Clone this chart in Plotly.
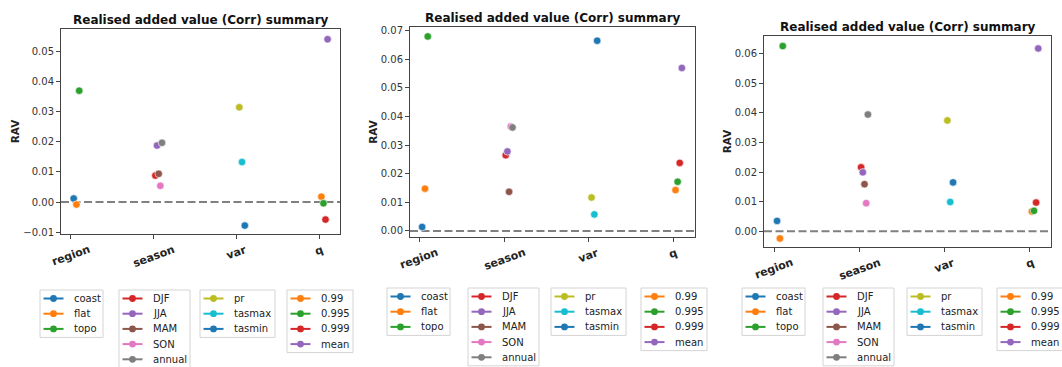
import plotly.graph_objects as go

# Factor groups on the x axis and the levels within each group
groups = ["region", "season", "var", "q"]
region_levels = ["coast", "flat", "topo"]
season_levels = ["DJF", "JJA", "MAM", "SON", "annual"]
var_levels = ["pr", "tasmax", "tasmin"]
q_levels = ["0.99", "0.995", "0.999", "mean"]

# Realised added value per level, one set of lists per panel
rav_a_region = [0.0012, -0.0008, 0.0370]
rav_a_season = [0.0088, 0.0188, 0.0094, 0.0054, 0.0197]
rav_a_var = [0.0315, 0.0133, -0.0078]
rav_a_q = [0.0018, -0.0004, -0.0058, 0.0541]

rav_b_region = [0.0014, 0.0148, 0.0680]
rav_b_season = [0.0265, 0.0278, 0.0137, 0.0365, 0.0362]
rav_b_var = [0.0117, 0.0058, 0.0665]
rav_b_q = [0.0143, 0.0172, 0.0238, 0.0570]

rav_c_region = [0.0035, -0.0024, 0.0625]
rav_c_season = [0.0216, 0.0199, 0.0159, 0.0095, 0.0394]
rav_c_var = [0.0374, 0.0099, 0.0165]
rav_c_q = [0.0067, 0.0069, 0.0097, 0.0617]

# tab10 colours per level
region_colors = ["#1f77b4", "#ff7f0e", "#2ca02c"]
season_colors = ["#d62728", "#9467bd", "#8c564b", "#e377c2", "#7f7f7f"]
var_colors = ["#bcbd22", "#17becf", "#1f77b4"]
q_colors = ["#ff7f0e", "#2ca02c", "#d62728", "#9467bd"]

level_sets = [region_levels, season_levels, var_levels, q_levels]
color_sets = [region_colors, season_colors, var_colors, q_colors]
panels = [
    [rav_a_region, rav_a_season, rav_a_var, rav_a_q],
    [rav_b_region, rav_b_season, rav_b_var, rav_b_q],
    [rav_c_region, rav_c_season, rav_c_var, rav_c_q],
]

W, H = 1062, 367
FONT = "DejaVu Sans"
TITLE = "Realised added value (Corr) summary"

# Panel placement in pixels: left, right, top, bottom
panel_boxes = [(61, 340, 29, 234), (410, 695, 27, 237), (764, 1051, 36, 247)]
y_ranges = [(-0.0106, 0.0575), (-0.0021, 0.0713), (-0.0053, 0.0659)]
x_ranges = [(-0.12, 3.25), (-0.11, 3.255), (-0.12, 3.25)]

# Legend boxes under each panel (pixels): left edges, top, box widths per group
legend_lefts = [(40, 119, 200, 287), (387, 468, 551, 641), (742, 823, 907, 997)]
legend_tops = [290, 288, 288]
legend_widths = [63, 71, 75, 66]
ROW_H = 15.2
PAD_Y = 8.5


def px_x(v):
    return v / W


def px_y(v):
    return 1 - v / H


fig = go.Figure()
annotations, shapes = [], []
layout = dict(
    width=W, height=H,
    margin=dict(l=0, r=0, t=0, b=0, autoexpand=False),
    paper_bgcolor="white", plot_bgcolor="white",
    font=dict(family=FONT, size=10, color="#333333"),
    showlegend=False,
)

for p, (values, box) in enumerate(zip(panels, panel_boxes)):
    ax = "" if p == 0 else str(p + 1)
    xname, yname = "x" + ax, "y" + ax
    left, right, top, bottom = box
    layout["xaxis" + ax] = dict(
        domain=[left / W, right / W], range=list(x_ranges[p]),
        tickmode="array", tickvals=list(range(len(groups))), showticklabels=False,
        showline=True, linecolor="#444444", linewidth=1, mirror=True,
        ticks="outside", ticklen=4, tickcolor="#444444", showgrid=False, zeroline=False,
        anchor=yname, automargin=False,
    )
    layout["yaxis" + ax] = dict(
        domain=[(H - bottom) / H, (H - top) / H], range=list(y_ranges[p]),
        dtick=0.01, tickformat=".2f",
        tickfont=dict(family=FONT, size=10, color="#333333"),
        showline=True, linecolor="#444444", linewidth=1, mirror=True,
        ticks="outside", ticklen=4, tickcolor="#444444", showgrid=False, zeroline=False,
        title=dict(text="<b>RAV</b>", font=dict(family=FONT, size=10.5, color="#222222"), standoff=1),
        anchor=xname, automargin=False,
    )
    # panel title
    annotations.append(dict(
        text="<b>" + TITLE + "</b>", xref=xname + " domain", yref=yname + " domain",
        x=0.5, y=1, yanchor="bottom", yshift=0, showarrow=False,
        font=dict(family=FONT, size=12, color="#111111"),
    ))
    # rotated, centred group labels under the ticks
    for g, name in enumerate(groups):
        annotations.append(dict(
            text="<b>" + name + "</b>", xref=xname, yref=yname + " domain",
            x=g, y=0, xanchor="center", yanchor="top", yshift=-6,
            textangle=-20, showarrow=False,
            font=dict(family=FONT, size=11, color="#222222"),
        ))
    # dashed reference line at zero
    shapes.append(dict(
        type="line", xref=xname + " domain", yref=yname, x0=0, x1=1, y0=0, y1=0,
        line=dict(color="#808080", width=2, dash="8px,3.5px"), layer="below",
    ))

    for g, (levels, colors, vals) in enumerate(zip(level_sets, color_sets, values)):
        n = len(levels)
        for i, (lev, col, v) in enumerate(zip(levels, colors, vals)):
            # small dodge so points within a group sit side by side
            xpos = g + 0.1 * (i + 1) / n
            fig.add_trace(go.Scatter(
                x=[xpos], y=[v], name=lev, mode="markers",
                marker=dict(color=col, size=7.5, line=dict(color="white", width=0.6)),
                xaxis=xname, yaxis=yname,
            ))

        # legend box for this group
        lx = legend_lefts[p][g]
        ly = legend_tops[p]
        lh = 2 * PAD_Y + (n - 1) * ROW_H
        shapes.append(dict(
            type="rect", xref="paper", yref="paper",
            x0=px_x(lx), x1=px_x(lx + legend_widths[g]), y0=px_y(ly + lh), y1=px_y(ly),
            line=dict(color="#d4d4d4", width=1), fillcolor="white", layer="above",
        ))
        for i, (lev, col) in enumerate(zip(levels, colors)):
            ry = ly + PAD_Y + i * ROW_H
            shapes.append(dict(
                type="line", xref="paper", yref="paper",
                x0=px_x(lx + 3.5), x1=px_x(lx + 23.5), y0=px_y(ry), y1=px_y(ry),
                line=dict(color=col, width=2), layer="above",
            ))
            shapes.append(dict(
                type="circle", xref="paper", yref="paper",
                xsizemode="pixel", ysizemode="pixel",
                xanchor=px_x(lx + 13.5), yanchor=px_y(ry),
                x0=-3.4, x1=3.4, y0=-3.4, y1=3.4,
                line=dict(color=col, width=0), fillcolor=col, layer="above",
            ))
            annotations.append(dict(
                text=lev, xref="paper", yref="paper",
                x=px_x(lx + 32), y=px_y(ry), xanchor="left", yanchor="middle",
                showarrow=False, font=dict(family=FONT, size=10, color="#222222"),
            ))

layout["annotations"] = annotations
layout["shapes"] = shapes
fig.update_layout(**layout)
fig.write_html("out.html")
